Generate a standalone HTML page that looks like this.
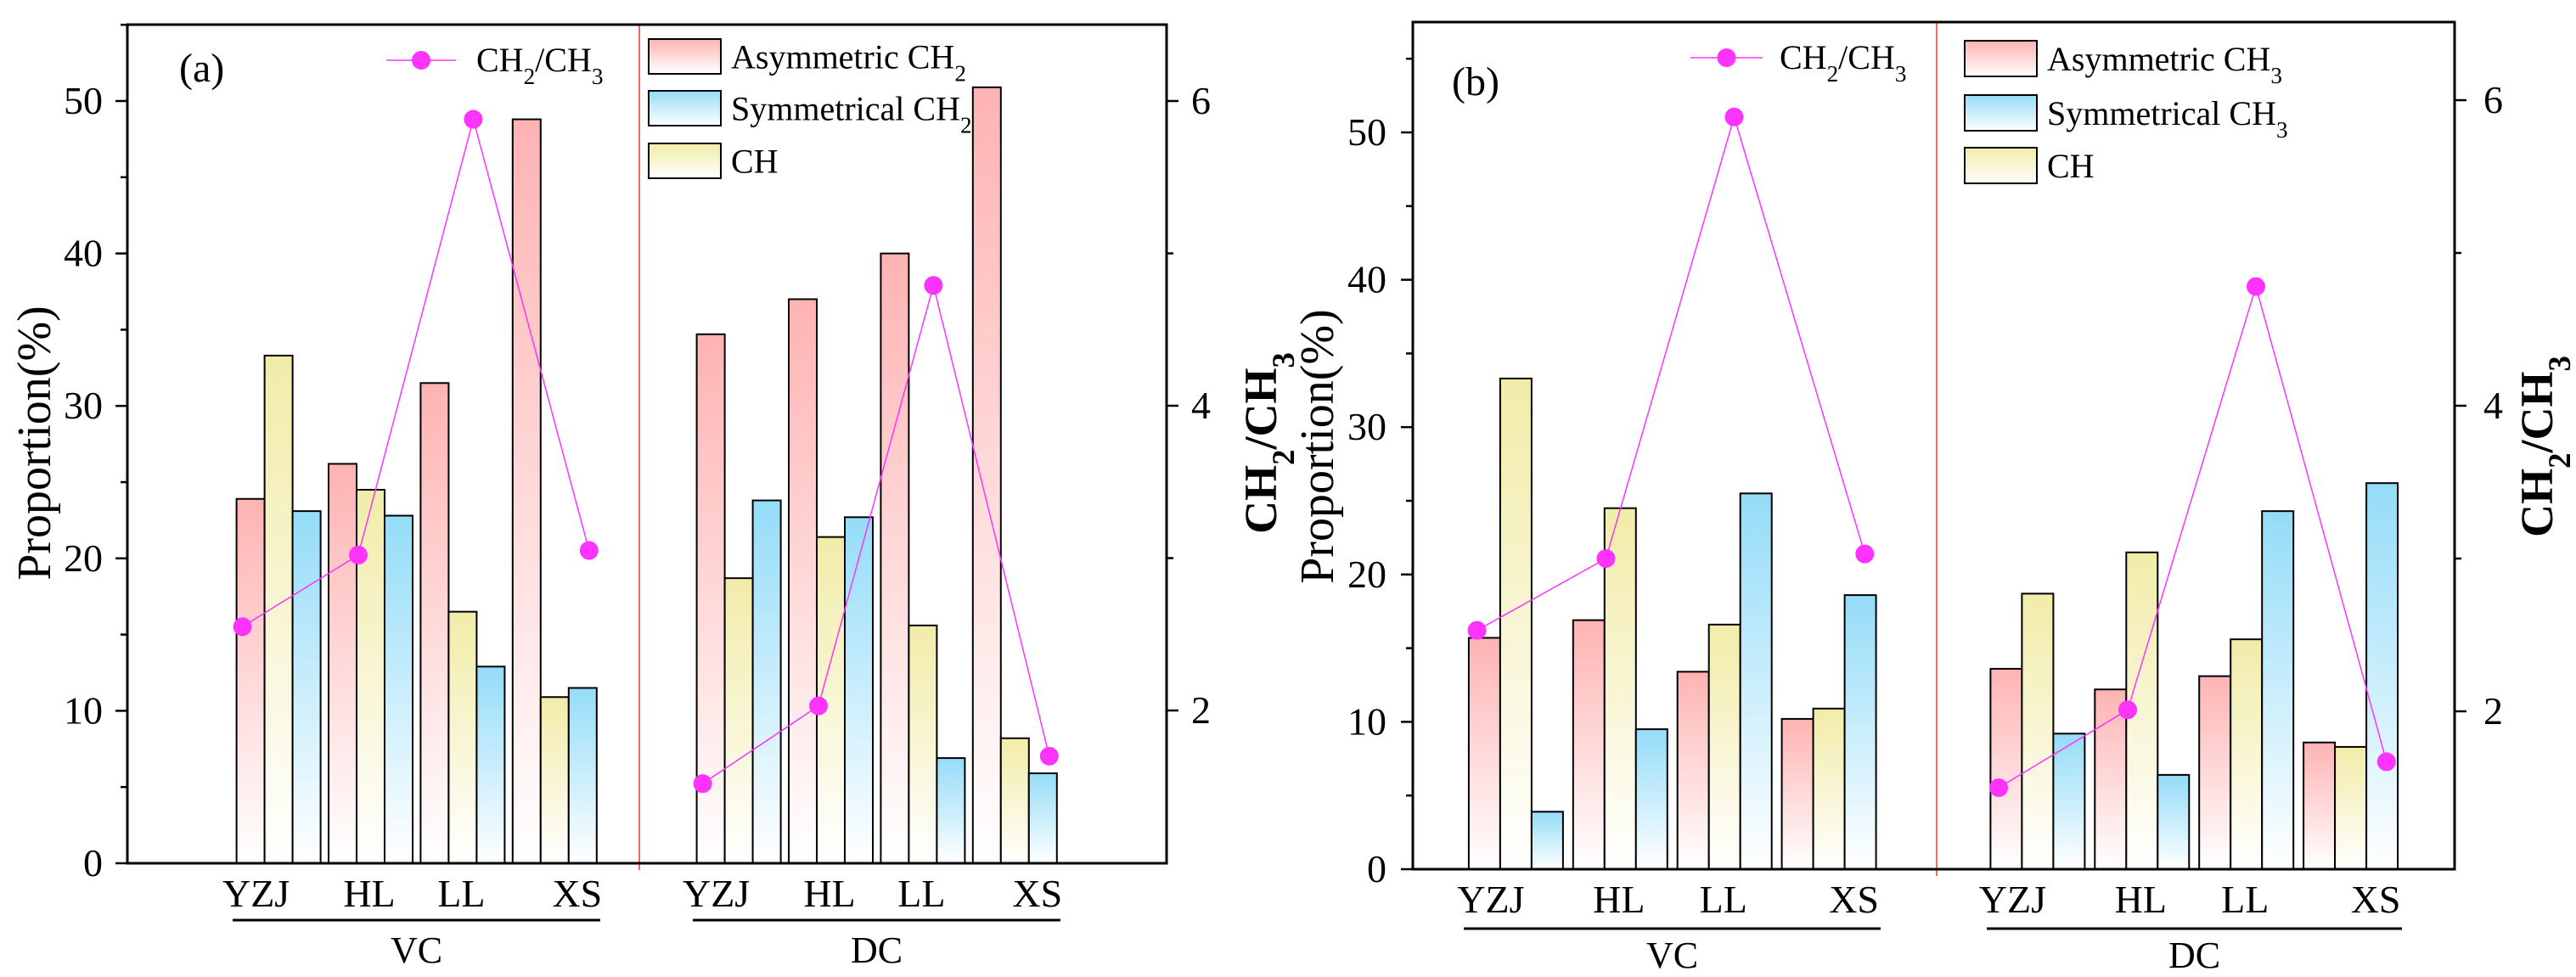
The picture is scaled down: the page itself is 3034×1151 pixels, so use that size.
<!DOCTYPE html>
<html><head><meta charset="utf-8"><style>
html,body{margin:0;padding:0;background:#fff}
svg{display:block}
text{font-family:"Liberation Serif",serif;fill:#000}
</style></head><body>
<svg id="chart" width="3034" height="1151" viewBox="0 0 3034 1151" xmlns="http://www.w3.org/2000/svg">
<defs>
<linearGradient id="gRed" x1="0" y1="0" x2="0" y2="1"><stop offset="0" stop-color="#ffb3b3"/><stop offset="1" stop-color="#ffffff"/></linearGradient>
<linearGradient id="gBlue" x1="0" y1="0" x2="0" y2="1"><stop offset="0" stop-color="#94dcf8"/><stop offset="1" stop-color="#ffffff"/></linearGradient>
<linearGradient id="gYel" x1="0" y1="0" x2="0" y2="1"><stop offset="0" stop-color="#f2eca8"/><stop offset="1" stop-color="#ffffff"/></linearGradient>
</defs>
</svg>
<script>
// ---- data ----
const sites = ["YZJ","HL","LL","XS"];
const groups = ["VC","DC"];
const aAsym = [23.9,26.2,31.5,48.8, 34.7,37.0,40.0,50.9];
const aCH   = [33.3,24.5,16.5,10.9, 18.7,21.4,15.6,8.2];
const aSym  = [23.1,22.8,12.9,11.5, 23.8,22.7,6.9,5.9];
const aRatio= [2.55,3.02,5.88,3.05, 1.52,2.03,4.79,1.70];
const bAsym = [15.7,16.9,13.4,10.2, 13.6,12.2,13.1,8.6];
const bCH   = [33.3,24.5,16.6,10.9, 18.7,21.5,15.6,8.3];
const bSym  = [3.9,9.5,25.5,18.6, 9.2,6.4,24.3,26.2];
const bRatio= [2.53,3.00,5.89,3.03, 1.50,2.01,4.78,1.67];
const leftTicks = [0,10,20,30,40,50];
const rightTicks = [2,4,6];

const NS="http://www.w3.org/2000/svg";
const svg=document.getElementById('chart');
function mk(tag,attrs,parent){const e=document.createElementNS(NS,tag);for(const k in attrs)e.setAttribute(k,attrs[k]);(parent||svg).appendChild(e);return e;}
function chemText(parent,x,y,parts,size,extra){
  const t=mk('text',Object.assign({x:x,y:y,'font-size':size},extra||{}),parent);
  parts.forEach(p=>{const s=mk('tspan',{},t);s.textContent=p[0];if(p[1]){s.setAttribute('baseline-shift','sub');s.setAttribute('font-size',size*0.68);}});
  return t;
}

const panels=[
 {id:'a',L:150,R:1374,T:29,B:1017,y0:1017,ppu:17.96,ymax:55,r6:119,rppu:179.5,
  x0:278.6,step:108.4,bw:33,dotOff:[7,35,62,90],labOff:[23,48,48,76],div:753,
  labY:1068,ulY:1084,grpY:1134,ul:[[274,707],[816,1249]],
  asym:aAsym,ch:aCH,sym:aSym,ratio:aRatio,letter:'(a)',letX:211,letY:96,
  lineLeg:{x1:455,x2:537,y:71,tx:561},box:{x:764,w:85,ys:[46,107,169],h:41,tx:861},sub:'2',
  lt:{x:40,y:522},rt:{x:1485,y:522},tlx:121,trx:1403},
 {id:'b',L:1664,R:2891,T:26,B:1024,y0:1024,ppu:17.36,ymax:57.5,r6:118,rppu:180,
  x0:1729.9,step:122.9,bw:37,dotOff:[9.7,38.7,66.8,97.7],labOff:[26,54,54,85],div:2281,
  labY:1075,ulY:1094,grpY:1140,ul:[[1724,2215],[2340,2829]],
  asym:bAsym,ch:bCH,sym:bSym,ratio:bRatio,letter:'(b)',letX:1710,letY:112,
  lineLeg:{x1:1991,x2:2076,y:68,tx:2096},box:{x:2314,w:85,ys:[48,112,174],h:42,tx:2411},sub:'3',
  lt:{x:1551,y:526},rt:{x:2988,y:526},tlx:1633,trx:2925}
];
const positions=[0,1,2,3,5,6,7,8];

panels.forEach(P=>{
  const g=mk('g',{});
  
  
  const yl=v=>P.y0-v*P.ppu;
  const yr=v=>P.r6+(6-v)*P.rppu;
  const gx=i=>P.x0+positions[i]*P.step;
  const series=[[P.asym,'url(#gRed)','asym'],[P.ch,'url(#gYel)','ch'],[P.sym,'url(#gBlue)','sym']];
  for(let i=0;i<8;i++){
    series.forEach((s,j)=>{
      const v=s[0][i];
      const r=mk('rect',{x:gx(i)+j*P.bw,y:yl(v),width:P.bw,height:P.y0-yl(v),fill:s[1],stroke:'#000','stroke-width':2},g);
      
      
    });
  }
  const dv=mk('line',{x1:P.div,y1:P.T,x2:P.div,y2:P.B+8,stroke:'#ff3030','stroke-width':1.5},g);
  
  
  const pts=P.ratio.map((v,i)=>[gx(i)+P.dotOff[i%4],yr(v)]);
  [[0,4],[4,8]].forEach(([s,e])=>{
    const pl=mk('polyline',{points:pts.slice(s,e).map(p=>p.join(',')).join(' '),fill:'none',stroke:'#ff33ff','stroke-width':1.5},g);
    
    
  });
  pts.forEach((p,i)=>{
    const c=mk('circle',{cx:p[0],cy:p[1],r:11,fill:'#ff33ff'},g);
    
    
  });
  const fr=mk('rect',{x:P.L,y:P.T,width:P.R-P.L,height:P.B-P.T,fill:'none',stroke:'#000','stroke-width':3},g);
  
  
  for(let v=0;v<=P.ymax;v+=5){
    const major=v%10===0;
    mk('line',{x1:P.L,x2:P.L-(major?14:8),y1:yl(v),y2:yl(v),stroke:'#000','stroke-width':2.5},g);
  }
  leftTicks.forEach(v=>{
    const t=mk('text',{x:P.tlx,y:yl(v)+15,'font-size':46,'text-anchor':'end'},g);
    t.textContent=v;
    
    
  });
  for(let v=2;v<=6;v++){
    const major=v%2===0;
    mk('line',{x1:P.R,x2:P.R+(major?14:8),y1:yr(v),y2:yr(v),stroke:'#000','stroke-width':2.5},g);
  }
  rightTicks.forEach(v=>{
    const t=mk('text',{x:P.trx,y:yr(v)+15,'font-size':46},g);
    t.textContent=v;
    
    
  });
  for(let i=0;i<8;i++){
    const t=mk('text',{x:gx(i)+P.labOff[i%4],y:P.labY,'font-size':46,'text-anchor':'middle'},g);
    t.textContent=sites[i%4];
    
    
  }
  P.ul.forEach((u,k)=>{
    const l=mk('line',{x1:u[0],x2:u[1],y1:P.ulY,y2:P.ulY,stroke:'#000','stroke-width':3},g);
    
    
    const t=mk('text',{x:(u[0]+u[1])/2,y:P.grpY,'font-size':44,'text-anchor':'middle'},g);
    t.textContent=groups[k];
    
    
  });
  const lt=mk('text',{x:0,y:0,'font-size':56,'text-anchor':'middle',transform:`translate(${P.lt.x+19},${P.lt.y}) rotate(-90)`},g);
  lt.textContent='Proportion(%)';
  
  
  const rt=chemText(g,0,0,[['CH'],['2',1],['/CH'],['3',1]],54,{'text-anchor':'middle','font-weight':'bold',transform:`translate(${P.rt.x+18},${P.rt.y}) rotate(-90)`});
  
  
  const lt2=mk('text',{x:P.letX,y:P.letY,'font-size':48},g);
  lt2.textContent=P.letter;
  
  
  const lg=mk('g',{},g);
  
  
  mk('line',{x1:P.lineLeg.x1,x2:P.lineLeg.x2,y1:P.lineLeg.y,y2:P.lineLeg.y,stroke:'#ff33ff','stroke-width':1.5},lg);
  mk('circle',{cx:(P.lineLeg.x1+P.lineLeg.x2)/2,cy:P.lineLeg.y,r:11,fill:'#ff33ff'},lg);
  chemText(lg,P.lineLeg.tx,P.lineLeg.y+13,[['CH'],['2',1],['/CH'],['3',1]],40);
  const names=[['Asymmetric CH','url(#gRed)'],['Symmetrical CH','url(#gBlue)'],['CH','url(#gYel)']];
  names.forEach((n,k)=>{
    const e=mk('g',{},g);
    
    
    mk('rect',{x:P.box.x,y:P.box.ys[k],width:P.box.w,height:P.box.h,fill:n[1],stroke:'#000','stroke-width':2},e);
    const parts=k<2?[[n[0]],[P.sub,1]]:[[n[0]]];
    chemText(e,P.box.tx,P.box.ys[k]+P.box.h/2+14,parts,40);
  });
});
</script>
</body></html>
